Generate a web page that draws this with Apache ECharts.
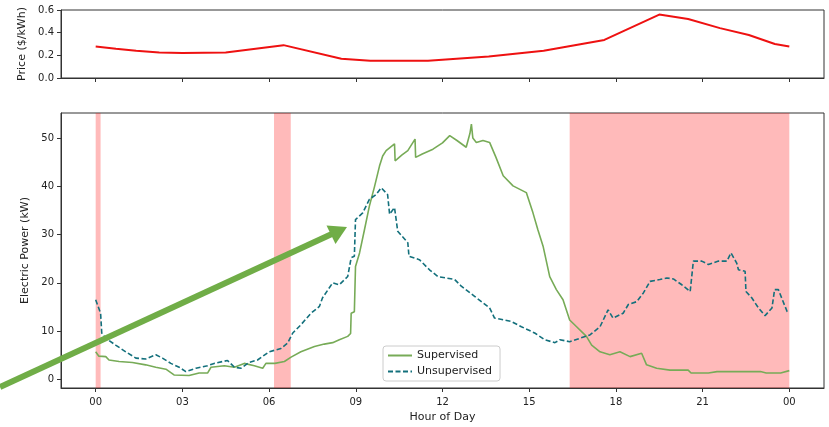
<!DOCTYPE html>
<html>
<head>
<meta charset="utf-8">
<script src="https://cdn.jsdelivr.net/npm/echarts@6/dist/echarts.min.js"></script>
<style>html,body{margin:0;padding:0;background:#fff}#c{width:829px;height:427px}</style>
</head>
<body>
<div id="c"></div>
<script>
// ---- data ----
const hourTicks = [0, 3, 6, 9, 12, 15, 18, 21, 24];
const powerTicks = [0, 10, 20, 30, 40, 50];

const priceHours  = [0, 0.7, 1.4, 2.2, 3, 4.5, 6.5, 8.5, 9.5, 11.5, 13.6, 15.5, 17.6, 19.5, 20.5, 21.6, 22.6, 23.5, 24];
const priceValues = [0.278, 0.258, 0.24, 0.226, 0.22, 0.226, 0.29, 0.17, 0.152, 0.152, 0.19, 0.24, 0.336, 0.56, 0.52, 0.44, 0.38, 0.30, 0.278];

const supHours = [0, 0.11, 0.35, 0.46, 0.81, 1.27, 1.73, 2.08, 2.43, 2.71, 3.23, 3.58, 3.87, 3.99, 4.45, 4.8, 5.14, 5.49, 5.78, 5.89, 6.2, 6.53, 6.76, 7.1, 7.57, 7.91, 8.2, 8.43, 8.72, 8.82, 8.84, 8.95, 8.99, 9.13, 9.3, 9.47, 9.65, 9.82, 9.93, 10.05, 10.34, 10.36, 10.6, 10.8, 11.05, 11.07, 11.3, 11.67, 12.0, 12.25, 12.5, 12.82, 12.95, 13.0, 13.05, 13.17, 13.4, 13.63, 13.85, 14.1, 14.44, 14.9, 15.13, 15.3, 15.48, 15.71, 15.94, 16.17, 16.4, 16.64, 16.98, 17.16, 17.45, 17.79, 18.14, 18.49, 18.89, 19.06, 19.41, 19.87, 20.5, 20.6, 21.2, 21.5, 23.0, 23.2, 23.7, 24.0];
const supValues = [5.7, 4.8, 4.7, 4.0, 3.7, 3.5, 3.0, 2.5, 2.1, 0.9, 0.8, 1.3, 1.3, 2.5, 2.8, 2.5, 3.3, 2.8, 2.3, 3.3, 3.3, 3.7, 4.6, 5.7, 6.8, 7.3, 7.6, 8.2, 8.9, 9.5, 13.7, 14.0, 23.4, 26.2, 31.0, 35.9, 40.0, 44.2, 46.3, 47.4, 48.8, 45.3, 46.5, 47.4, 49.8, 46.0, 46.7, 47.7, 49.0, 50.5, 49.5, 48.1, 51.0, 52.9, 50.0, 49.1, 49.5, 49.1, 46.0, 42.2, 40.1, 38.7, 34.5, 31.0, 27.6, 21.3, 18.6, 16.5, 12.3, 10.9, 8.9, 7.1, 5.7, 5.1, 5.7, 4.7, 5.4, 3.0, 2.3, 1.9, 1.9, 1.3, 1.3, 1.6, 1.6, 1.3, 1.3, 1.8];

const unsHours = [0, 0.06, 0.17, 0.21, 0.35, 0.69, 1.04, 1.39, 1.73, 2.08, 2.31, 2.6, 2.89, 3.12, 3.47, 3.87, 4.1, 4.56, 4.8, 5.03, 5.31, 5.6, 6.0, 6.41, 6.64, 6.82, 7.1, 7.45, 7.74, 7.85, 8.2, 8.43, 8.72, 8.84, 8.95, 8.99, 9.24, 9.47, 9.7, 9.88, 10.1, 10.17, 10.34, 10.45, 10.8, 10.84, 11.2, 11.55, 11.84, 12.42, 12.65, 13.11, 13.63, 13.8, 14.38, 14.73, 15.19, 15.54, 15.89, 16.06, 16.4, 16.75, 17.1, 17.45, 17.73, 17.9, 18.25, 18.43, 18.72, 18.95, 19.18, 19.52, 19.76, 19.99, 20.28, 20.57, 20.68, 20.97, 21.2, 21.55, 21.84, 21.98, 22.18, 22.24, 22.47, 22.5, 22.7, 22.93, 23.16, 23.4, 23.49, 23.62, 23.92, 24];
const unsValues = [16.5, 15.5, 13.7, 9.6, 8.5, 7.1, 5.7, 4.4, 4.2, 5.1, 4.4, 3.3, 2.5, 1.6, 2.3, 2.8, 3.3, 3.9, 2.5, 2.3, 3.5, 4.0, 5.7, 6.4, 7.5, 9.6, 11.3, 13.7, 15.1, 16.9, 20.0, 19.6, 21.3, 25.2, 25.5, 33.1, 34.5, 37.3, 38.3, 39.7, 38.3, 34.2, 35.6, 30.7, 28.3, 25.5, 24.8, 22.7, 21.3, 20.7, 19.3, 17.2, 14.8, 12.7, 12.0, 10.9, 9.6, 8.2, 7.6, 8.2, 7.8, 8.5, 9.2, 10.9, 14.4, 12.7, 13.7, 15.5, 16.1, 17.9, 20.3, 20.7, 21.0, 20.8, 19.6, 18.2, 24.5, 24.5, 23.8, 24.5, 24.5, 26.2, 24.1, 22.7, 22.4, 18.2, 16.9, 14.8, 13.2, 14.8, 18.6, 18.6, 14.1, 13.7];

const shadeStarts = [0, 6.17, 16.4];
const shadeEnds   = [0.17, 6.75, 24];

// ---- chart ----
const zip = (a, b) => a.map((x, i) => [x, b[i]]);
const FONT = 'DejaVu Sans';
const AX = '#333';
const hourFmt = v => String(Math.round(v) % 24).padStart(2, '0');

const chart = echarts.init(document.getElementById('c'), null, {renderer: 'canvas'});

const xCommon = {
  type: 'value', min: -1.2, max: 25.2,
  axisLine: {show: true, onZero: false, lineStyle: {color: AX, width: 1}},
  axisTick: {show: true, length: 4, lineStyle: {color: AX}, customValues: hourTicks},
  splitLine: {show: false}
};

chart.setOption({
  animation: false,
  textStyle: {fontFamily: FONT},
  grid: [
    {left: 61, right: 5, top: 10, height: 68, show: true, borderColor: AX, borderWidth: 1, backgroundColor: 'transparent', outerBoundsMode: 'none', containLabel: false},
    {left: 61, right: 5, top: 113, height: 275, show: true, borderColor: AX, borderWidth: 1, backgroundColor: 'transparent', outerBoundsMode: 'none', containLabel: false}
  ],
  xAxis: [
    Object.assign({}, xCommon, {gridIndex: 0, axisLabel: {show: false}}),
    Object.assign({}, xCommon, {
      gridIndex: 1,
      axisLabel: {show: true, customValues: hourTicks, formatter: hourFmt, fontSize: 10, color: '#222', margin: 9, fontFamily: FONT},
      name: 'Hour of Day', nameLocation: 'middle', nameGap: 24,
      nameTextStyle: {fontSize: 11, color: '#222', fontFamily: FONT}
    })
  ],
  yAxis: [
    {
      type: 'value', gridIndex: 0, min: 0, max: 0.6, interval: 0.2,
      axisLine: {show: true, onZero: false, lineStyle: {color: AX}},
      axisTick: {show: true, length: 4, lineStyle: {color: AX}},
      axisLabel: {fontSize: 10, color: '#222', margin: 7, formatter: v => v.toFixed(1), fontFamily: FONT},
      splitLine: {show: false},
      name: 'Price ($/kWh)', nameLocation: 'middle', nameGap: 27,
      nameTextStyle: {fontSize: 11, color: '#222', fontFamily: FONT}
    },
    {
      type: 'value', gridIndex: 1, min: -1.8, max: 55.2,
      axisLine: {show: true, onZero: false, lineStyle: {color: AX}},
      axisTick: {show: true, length: 4, lineStyle: {color: AX}, customValues: powerTicks},
      axisLabel: {fontSize: 10, color: '#222', margin: 7, customValues: powerTicks, fontFamily: FONT},
      splitLine: {show: false},
      name: 'Electric Power (kW)', nameLocation: 'middle', nameGap: 24,
      nameTextStyle: {fontSize: 11, color: '#222', fontFamily: FONT}
    }
  ],
  legend: {
    left: 383, top: 346, orient: 'vertical',
    backgroundColor: '#fff', borderColor: '#ccc', borderWidth: 1, borderRadius: 3,
    padding: [4, 8, 4, 4], itemWidth: 24, itemHeight: 10, itemGap: 5,
    itemStyle: {opacity: 0, color: 'rgba(0,0,0,0)', borderColor: 'rgba(0,0,0,0)', borderWidth: 0},
    textStyle: {fontSize: 11, color: '#222', fontFamily: FONT},
    data: ['Supervised', 'Unsupervised']
  },
  series: [
    {
      name: 'shade', type: 'line', xAxisIndex: 1, yAxisIndex: 1, data: [], z: 1, silent: true,
      markArea: {
        silent: true,
        itemStyle: {color: 'rgba(255,0,0,0.27)'},
        data: shadeStarts.map((s, i) => [{xAxis: s}, {xAxis: shadeEnds[i]}])
      }
    },
    {
      name: 'Price', type: 'line', xAxisIndex: 0, yAxisIndex: 0,
      data: zip(priceHours, priceValues), symbol: 'none', z: 3,
      lineStyle: {color: '#ee1111', width: 2}
    },
    {
      name: 'Supervised', type: 'line', xAxisIndex: 1, yAxisIndex: 1,
      data: zip(supHours, supValues), symbol: 'none', z: 3,
      itemStyle: {color: '#77ab57'},
      lineStyle: {color: '#77ab57', width: 1.6}
    },
    {
      name: 'Unsupervised', type: 'line', xAxisIndex: 1, yAxisIndex: 1,
      data: zip(unsHours, unsValues), symbol: 'none', z: 4,
      itemStyle: {color: '#13707c'},
      lineStyle: {color: '#13707c', width: 1.6, type: [5, 2.5]}
    }
  ],
  graphic: [
    {type: 'line', z: 100, shape: {x1: 0, y1: 387, x2: 334, y2: 233}, style: {stroke: '#70AD47', lineWidth: 6}},
    {type: 'polygon', z: 100, shape: {points: [[347, 227], [326.5, 225.5], [335.5, 244]]}, style: {fill: '#70AD47'}}
  ]
});
</script>
</body>
</html>
